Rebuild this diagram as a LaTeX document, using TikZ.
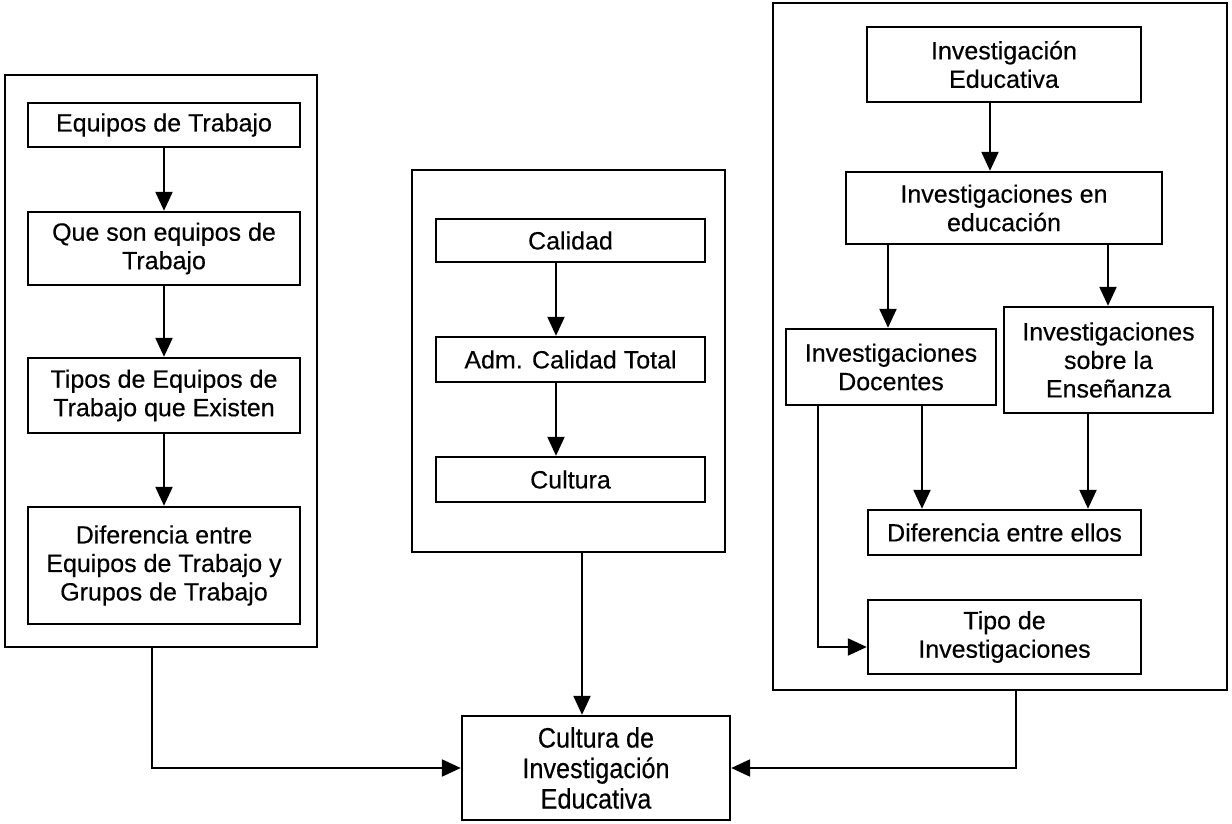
\documentclass[tikz,border=0pt]{standalone}
\usepackage{fontspec}
\setmainfont{Liberation Sans}[FakeBold=0.35]
\newfontfamily\narrowfont[FakeStretch=0.9,FakeBold=0.35]{Liberation Sans}
\usetikzlibrary{arrows.meta}

\begin{document}
\begin{tikzpicture}[x=1pt,y=-1pt,
  sz/.style 2 args={minimum width=#1pt, minimum height=#2pt},
  box/.style={draw, line width=2.4pt, inner sep=0pt, align=center,
              font=\fontsize{25}{28.5}\selectfont},
  frame/.style={draw, line width=2.4pt, inner sep=0pt},
  link/.style={line width=2.2pt},
  arr/.style={link, -{Triangle[length=19pt,width=17pt]}}]
\useasboundingbox (0,0) rectangle (1232,824);

% ---- outer frames ----
\node[frame, sz={312}{572}] (L) at (161,361) {};
\node[frame, sz={313}{382}] (M) at (568.5,361) {};
\node[frame, sz={454}{687}] (R) at (1000,346.5) {};

% ---- left column ----
\node[box, sz={272}{44}]  (b1) at (164,125)   {Equipos de Trabajo};
\node[box, sz={272}{73}]  (b2) at (164,248.5) {Que son equipos de\\Trabajo};
\node[box, sz={272}{75}]  (b3) at (164,395.5) {Tipos de Equipos de\\Trabajo que Existen};
\node[box, sz={272}{117}] (b4) at (164,565.5) {Diferencia entre\\Equipos de Trabajo y\\Grupos de Trabajo};

\draw[arr] (b1) -- (b2);
\draw[arr] (b2) -- (b3);
\draw[arr] (b3) -- (b4);

% ---- middle column ----
\node[box, sz={269}{43}] (c1) at (570.5,240.5) {Calidad};
\node[box, sz={269}{45}] (c2) at (570.5,359.5) {Adm. Calidad Total};
\node[box, sz={269}{45}] (c3) at (570.5,479.5) {Cultura};

\coordinate (xc) at (556,0);
\draw[arr] (c1.south -| xc) -- (c2.north -| xc);
\draw[arr] (c2.south -| xc) -- (c3.north -| xc);

% ---- right column ----
\node[box, sz={274}{75}]  (r1) at (1004,64.5)   {Investigación\\Educativa};
\node[box, sz={316}{72}]  (r2) at (1004,208)    {Investigaciones en\\educación};
\node[box, sz={210}{76}]  (r3) at (891,367)     {Investigaciones\\Docentes};
\node[box, sz={209}{106}] (r4) at (1108.5,360)  {Investigaciones\\sobre la\\Enseñanza};
\node[box, sz={273}{45}]  (r5) at (1004.5,532.5){Diferencia entre ellos};
\node[box, sz={273}{74}]  (r6) at (1004.5,637)  {Tipo de\\Investigaciones};

\coordinate (x1) at (990,0);
\coordinate (x2) at (888,0);
\coordinate (x3) at (1108,0);
\coordinate (x4) at (922,0);
\coordinate (x5) at (1088,0);
\coordinate (x6) at (818,0);
\coordinate (y6) at (0,647);

\draw[arr] (r1.south -| x1) -- (r2.north -| x1);
\draw[arr] (r2.south -| x2) -- (r3.north -| x2);
\draw[arr] (r2.south -| x3) -- (r4.north -| x3);
\draw[arr] (r3.south -| x4) -- (r5.north -| x4);
\draw[arr] (r4.south -| x5) -- (r5.north -| x5);
\draw[arr] (r3.south -| x6) |- (r6.west |- y6);

% ---- bottom target ----
\node[box, sz={268}{104}, font=\narrowfont\fontsize{28}{30.5}\selectfont]
  (cb) at (596,768) {Cultura de\\Investigación\\Educativa};

\coordinate (xl) at (152,0);
\coordinate (xm) at (582,0);
\coordinate (xr) at (1016,0);
\draw[arr] (L.south -| xl) |- (cb.west);
\draw[arr] (M.south -| xm) -- (cb.north -| xm);
\draw[arr] (R.south -| xr) |- (cb.east);
\end{tikzpicture}
\end{document}
